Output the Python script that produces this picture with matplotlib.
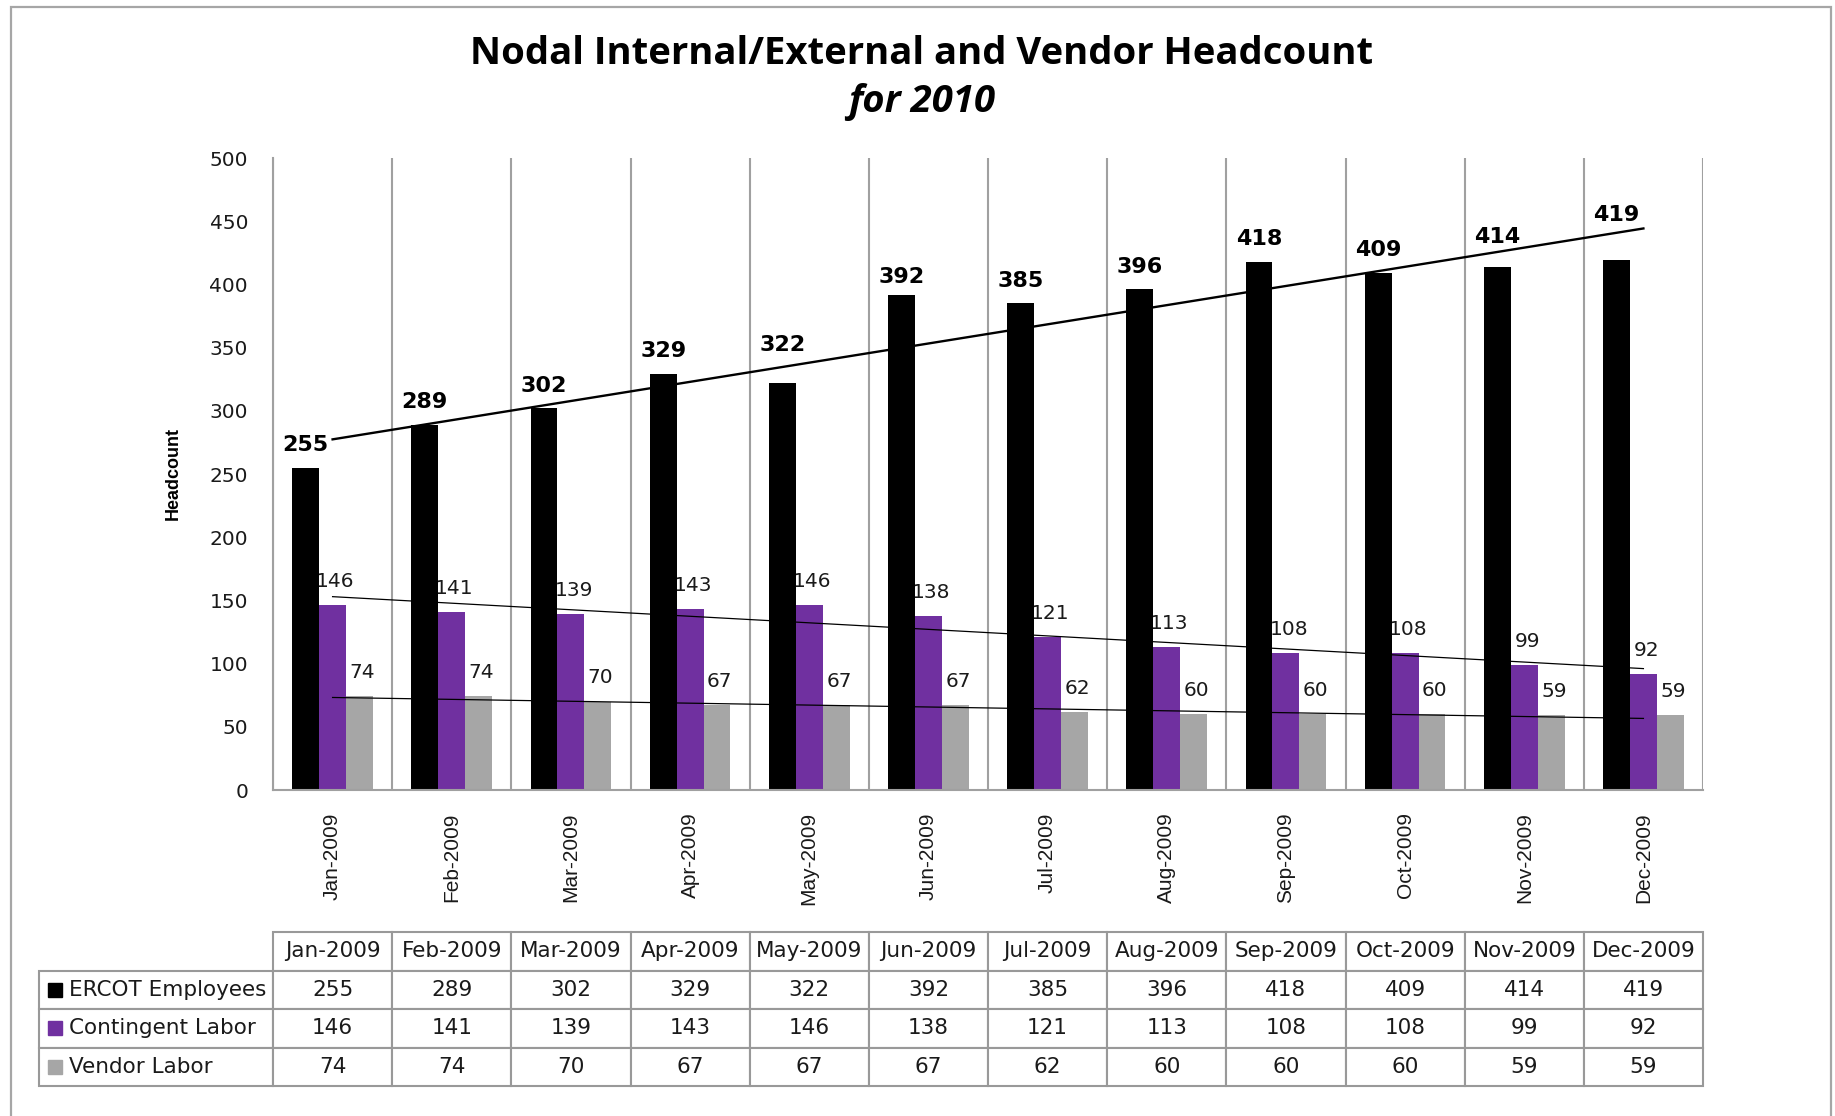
import numpy as np
import matplotlib.pyplot as plt
from matplotlib.patches import Rectangle

months = ["Jan-2009", "Feb-2009", "Mar-2009", "Apr-2009", "May-2009", "Jun-2009",
          "Jul-2009", "Aug-2009", "Sep-2009", "Oct-2009", "Nov-2009", "Dec-2009"]
ercot = [255, 289, 302, 329, 322, 392, 385, 396, 418, 409, 414, 419]
contingent = [146, 141, 139, 143, 146, 138, 121, 113, 108, 108, 99, 92]
vendor = [74, 74, 70, 67, 67, 67, 62, 60, 60, 60, 59, 59]
series_names = ["ERCOT Employees", "Contingent Labor", "Vendor Labor"]
colors = ["#000000", "#7030A0", "#A6A6A6"]

# a few of the bold labels were nudged up/down in the original (points)
ercot_label_nudge = {4: 11, 5: -4, 10: 5, 11: 16}

W, H = 1835, 1116
grid_c = "#A0A0A0"
text_c = "#1a1a1a"

fig = plt.figure(figsize=(W / 100, H / 100), dpi=100)
# plot area in pixels: x 273..1703, y 158..790
ax = fig.add_axes([273 / W, 1 - 790 / H, 1430 / W, 632 / H])

x = np.arange(len(months))
bw = 0.226
series = [ercot, contingent, vendor]
for i, (vals, c) in enumerate(zip(series, colors)):
    xs = x + (i - 1) * bw
    ax.bar(xs, vals, bw, color=c, zorder=2)
    # linear trendline, first to last category
    coef = np.polyfit(x, vals, 1)
    ends = np.array([x[0], x[-1]])
    ax.plot(ends, np.polyval(coef, ends), color="black",
            lw=1.7 if i == 0 else 0.9, zorder=3)
    for k, (xi, v) in enumerate(zip(xs, vals)):
        if i == 0:
            ax.annotate(str(v), (xi, v), xytext=(0, 12 + ercot_label_nudge.get(k, 0)),
                        textcoords="offset points", ha="center", va="baseline",
                        fontsize=16, fontweight="bold", color="black", zorder=4)
        else:
            ax.annotate(str(v), (xi, v), xytext=(2, 13),
                        textcoords="offset points", ha="center", va="baseline",
                        fontsize=14.5, color=text_c, zorder=1.8)

# vertical category separators
for b in np.arange(-0.5, len(months)):
    ax.axvline(b, color=grid_c, lw=1.5, zorder=1)

ax.set_xlim(-0.5, len(months) - 0.5)
ax.set_ylim(0, 500)
ax.set_yticks(np.arange(0, 501, 50))
ax.tick_params(axis="y", length=0, pad=18, labelsize=14.5, labelcolor=text_c)
ax.set_xticks(x)
ax.set_xticklabels(months, rotation=90, fontsize=15, family="Liberation Sans", color=text_c)
ax.tick_params(axis="x", length=0, pad=16)
for s in ["top", "right"]:
    ax.spines[s].set_visible(False)
for s in ["left", "bottom"]:
    ax.spines[s].set_color(grid_c)
    ax.spines[s].set_linewidth(1.5)

ax.set_ylabel("Headcount", fontsize=13, fontweight="bold", family="Liberation Sans")
ax.yaxis.set_label_coords(-0.064, 0.5)

# data table under the chart
x0 = -234 / 1430
y0 = (790 - 1086) / 632
tw = 1 - x0
th = (1086 - 932) / 632
cell_text = [[name] + [str(v) for v in vals] for name, vals in zip(series_names, series)]
tbl = ax.table(cellText=cell_text, colLabels=[""] + months, cellLoc="center",
               colWidths=[-x0] + [1 / 12] * 12, bbox=[x0, y0, tw, th])
tbl.auto_set_font_size(False)
tbl.set_fontsize(15.5)
for (r, c), cell in tbl.get_celld().items():
    cell.set_edgecolor("#999999")
    cell.set_linewidth(1.5)
    cell.get_text().set_color(text_c)
    if c == 0:
        cell.get_text().set_ha("left")
        cell.PAD = 30 / 234
tbl[0, 0].visible_edges = "open"

# legend keys in the row label cells
rh = th / 4
for r, c in enumerate(colors):
    cy = y0 + th - (r + 1.5) * rh
    ax.add_patch(Rectangle((x0 + 9 / 1430, cy - 7 / 632), 14 / 1430, 14 / 632,
                           transform=ax.transAxes, color=c, clip_on=False))

# title
fig.text(0.502, 1 - 54 / H, "Nodal Internal/External and Vendor Headcount",
         ha="center", va="center", fontsize=27.5, fontweight="bold", family="Open Sans")
fig.text(0.502, 1 - 102 / H, "for 2010", ha="center", va="center", fontsize=27.5,
         fontweight="bold", style="italic", family="Open Sans")

# outer frame
fig.add_artist(Rectangle((11 / W, -0.05), (1831 - 11) / W, 1 - 7 / H + 0.05,
                         transform=fig.transFigure, fill=False, ec="#A6A6A6", lw=1.6))

fig.savefig("out.png", dpi=100)
